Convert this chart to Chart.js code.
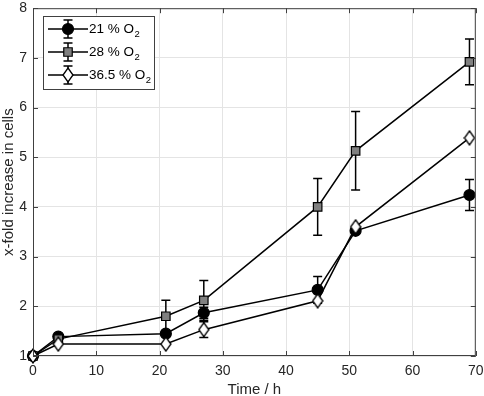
<!DOCTYPE html>
<html>
<head>
<meta charset="utf-8">
<script src="https://cdn.jsdelivr.net/npm/chart.js@4/dist/chart.umd.min.js"></script>
<style>
  html, body { margin: 0; padding: 0; background: #fff; }
  #wrap { width: 484px; height: 396px; }
</style>
</head>
<body>
<div id="wrap"><canvas id="growthChart"></canvas></div>
<script>
// values
const times = [0, 4, 21, 27, 45, 51, 69];
const o21 = [1.0, 1.39, 1.45, 1.87, 2.33, 3.52, 4.24];
const o21Err = [0, 0, 0, 0.11, 0.27, 0, 0.31];
const o28 = [1.0, 1.34, 1.80, 2.12, 4.00, 5.13, 6.92];
const o28Err = [0, 0, 0.32, 0.40, 0.57, 0.79, 0.46];
const o365 = [1.0, 1.24, 1.24, 1.53, 2.11, 3.60, 5.39];
const o365Err = [0, 0, 0, 0.16, 0, 0, 0];
const seriesNames = ['21 % O', '28 % O', '36.5 % O'];
const xTicks = [0, 10, 20, 30, 40, 50, 60, 70];
const yTicks = [1, 2, 3, 4, 5, 6, 7, 8];

const FONT = '"Liberation Sans", Arial, Helvetica, sans-serif';
const AXIS = '#404040';

function pts(vals) {
    return times.map((t, i) => ({ x: t, y: vals[i] }));
}

// MATLAB's diamond is a bit taller than wide
function makeDiamond() {
    const c = document.createElement('canvas');
    c.width = 12; c.height = 16;
    const g = c.getContext('2d');
    g.beginPath();
    g.moveTo(6, 1); g.lineTo(11, 8); g.lineTo(6, 15); g.lineTo(1, 8);
    g.closePath();
    g.fillStyle = '#fff';
    g.fill();
    g.lineWidth = 1.3;
    g.strokeStyle = '#000';
    g.stroke();
    return c;
}
const diamond = makeDiamond();

const styles = [
    { pointStyle: 'circle', pointRadius: 5.5, pointBackgroundColor: '#000' },
    { pointStyle: 'rect', pointRadius: 6, pointBackgroundColor: '#808080' },
    { pointStyle: diamond, pointRadius: 7, pointBackgroundColor: '#fff' }
];

// error bars, drawn below the markers
const errorBars = {
    id: 'errorBars',
    beforeDatasetsDraw(chart) {
        const ctx = chart.ctx;
        const ys = chart.scales.y, xs = chart.scales.x;
        ctx.save();
        ctx.strokeStyle = '#000';
        ctx.lineWidth = 1.5;
        chart.data.datasets.forEach(ds => {
            ds.err.forEach((e, i) => {
                if (!e) return;
                const px = xs.getPixelForValue(ds.data[i].x);
                const top = ys.getPixelForValue(ds.data[i].y + e);
                const bot = ys.getPixelForValue(ds.data[i].y - e);
                ctx.beginPath();
                ctx.moveTo(px, top); ctx.lineTo(px, bot);
                ctx.moveTo(px - 4.5, top); ctx.lineTo(px + 4.5, top);
                ctx.moveTo(px - 4.5, bot); ctx.lineTo(px + 4.5, bot);
                ctx.stroke();
            });
        });
        ctx.restore();
    }
};

// MATLAB-like box, inner ticks and legend
const boxAndLegend = {
    id: 'boxAndLegend',
    afterDraw(chart) {
        const ctx = chart.ctx;
        const a = chart.chartArea;
        const xs = chart.scales.x, ys = chart.scales.y;
        ctx.save();
        ctx.strokeStyle = AXIS;
        ctx.lineWidth = 1;
        ctx.strokeRect(a.left + 0.5, a.top + 0.5, a.right - a.left - 1, a.bottom - a.top - 1);
        ctx.beginPath();
        xTicks.forEach(v => {
            const px = Math.round(xs.getPixelForValue(v)) + 0.5;
            ctx.moveTo(px, a.bottom); ctx.lineTo(px, a.bottom - 5);
            ctx.moveTo(px, a.top); ctx.lineTo(px, a.top + 5);
        });
        yTicks.forEach(v => {
            const py = Math.round(ys.getPixelForValue(v)) + 0.5;
            ctx.moveTo(a.left, py); ctx.lineTo(a.left + 5, py);
            ctx.moveTo(a.right, py); ctx.lineTo(a.right - 5, py);
        });
        ctx.stroke();

        // legend
        const lx = 43, ly = 16, lw = 111, lh = 73;
        ctx.fillStyle = '#fff';
        ctx.fillRect(lx, ly, lw, lh);
        ctx.strokeStyle = '#404040';
        ctx.strokeRect(lx + 0.5, ly + 0.5, lw, lh);
        chart.data.datasets.forEach((ds, i) => {
            const cy = ly + 13 + i * 23;
            ctx.strokeStyle = '#000';
            ctx.lineWidth = 1.5;
            ctx.beginPath();
            ctx.moveTo(48, cy); ctx.lineTo(88, cy);
            ctx.moveTo(68, cy - 9); ctx.lineTo(68, cy + 9);
            ctx.moveTo(63.5, cy - 9); ctx.lineTo(72.5, cy - 9);
            ctx.moveTo(63.5, cy + 9); ctx.lineTo(72.5, cy + 9);
            ctx.stroke();
            ctx.fillStyle = ds.pointBackgroundColor;
            ctx.lineWidth = 1.2;
            Chart.helpers.drawPoint(ctx, {
                pointStyle: ds.pointStyle, radius: ds.pointRadius, borderWidth: 1.2
            }, 68, cy);
            ctx.fillStyle = '#000';
            ctx.textBaseline = 'middle';
            ctx.textAlign = 'left';
            ctx.font = '13.5px ' + FONT;
            ctx.fillText(seriesNames[i], 89, cy);
            const w = ctx.measureText(seriesNames[i]).width;
            ctx.font = '9.5px ' + FONT;
            ctx.fillText('2', 89 + w + 0.5, cy + 5);
        });
        ctx.restore();
    }
};

const datasets = [
    { label: seriesNames[0] + '2', data: pts(o21), err: o21Err, order: 2 },
    { label: seriesNames[1] + '2', data: pts(o28), err: o28Err, order: 1 },
    { label: seriesNames[2] + '2', data: pts(o365), err: o365Err, order: 0 }
].map((d, i) => Object.assign(d, styles[i], {
    borderColor: '#000',
    borderWidth: 1.5,
    pointBorderColor: '#000',
    pointBorderWidth: 1.2,
    showLine: true,
    clip: false
}));

new Chart(document.getElementById('growthChart'), {
    type: 'scatter',
    data: { datasets },
    options: {
        responsive: true,
        maintainAspectRatio: false,
        animation: false,
        layout: { padding: { top: 6, right: 8, left: 0, bottom: 0 } },
        plugins: { legend: { display: false }, tooltip: { enabled: false } },
        scales: {
            x: {
                type: 'linear', min: 0, max: 70,
                afterBuildTicks: s => { s.ticks = xTicks.map(v => ({ value: v })); },
                afterFit: s => { s.height = 40; s.paddingLeft = 0; s.paddingRight = 0; },
                grid: { color: '#e4e4e4', drawTicks: false },
                border: { display: false },
                ticks: { color: '#262626', padding: 7, font: { family: FONT, size: 14 }, maxRotation: 0 },
                title: { display: true, text: 'Time / h', color: '#262626', padding: { top: 4, bottom: -3 }, font: { family: FONT, size: 15 } }
            },
            y: {
                type: 'linear', min: 1, max: 8,
                afterBuildTicks: s => { s.ticks = yTicks.map(v => ({ value: v })); },
                afterFit: s => { s.width = 33; s.paddingTop = 0; s.paddingBottom = 0; },
                grid: { color: '#e4e4e4', drawTicks: false },
                border: { display: false },
                ticks: { color: '#262626', padding: 6, font: { family: FONT, size: 14 } },
                title: { display: true, text: 'x-fold increase in cells', color: '#262626', padding: { top: 0, bottom: 2 }, font: { family: FONT, size: 15 } }
            }
        }
    },
    plugins: [errorBars, boxAndLegend]
});
</script>
</body>
</html>
